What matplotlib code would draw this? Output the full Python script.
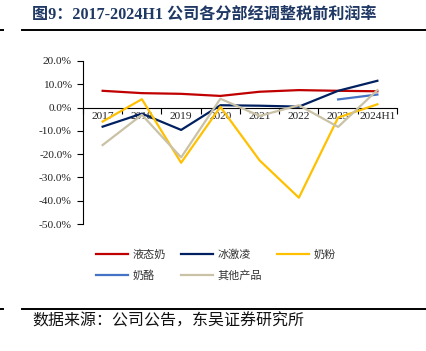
import matplotlib

matplotlib.use("Agg")
import matplotlib.pyplot as plt
from matplotlib.lines import Line2D
from matplotlib.ticker import FuncFormatter, FixedLocator

years = ["2017", "2018", "2019", "2020", "2021", "2022", "2023", "2024H1"]
liquid_milk = [7.2, 6.2, 5.9, 5.0, 6.8, 7.5, 7.2, 7.0]
ice_cream = [-8.2, -2.6, -9.6, 1.0, 0.8, 0.4, 7.2, 11.5]
milk_powder = [-6.0, 3.6, -23.7, 0.3, -22.7, -38.7, -4.3, 1.4]
cheese = [None, None, None, None, None, None, 3.5, 5.6]
others = [-16.1, -3.1, -21.4, 3.8, -3.6, 1.0, -8.3, 7.5]

series = [
    ("液态奶", liquid_milk, "#C00000"),
    ("冰激凌", ice_cream, "#002060"),
    ("奶粉", milk_powder, "#FFC000"),
    ("奶酪", cheese, "#4472C4"),
    ("其他产品", others, "#C9C2A6"),
]

serif = ["Liberation Serif", "Noto Sans CJK SC"]
cjk = ["Noto Sans CJK SC", "DejaVu Sans"]

fig = plt.figure(figsize=(4.27, 3.51), dpi=100, facecolor="white")
ax = fig.add_axes([83 / 427, 1 - 224 / 351, (397 - 83) / 427, (224 - 61) / 351])

x = list(range(len(years)))
lines = {}
for name, vals, color in series:
    xs = [i for i, v in zip(x, vals) if v is not None]
    ys = [v / 100 for v in vals if v is not None]
    (ln,) = ax.plot(xs, ys, color=color, linewidth=1.6, label=name, zorder=3)
    lines[name] = ln

ax.set_xlim(-0.5, len(years) - 0.5)
ax.set_ylim(-0.5, 0.2)
ax.set_yticks([i / 10 for i in range(-5, 3)])
ax.yaxis.set_major_formatter(FuncFormatter(lambda v, _: f"{v * 100:.1f}%"))

ax.spines["top"].set_visible(False)
ax.spines["right"].set_visible(False)
ax.spines["bottom"].set_position(("data", 0))
for sp in ("left", "bottom"):
    ax.spines[sp].set_color("black")
    ax.spines[sp].set_linewidth(0.8)

ax.xaxis.set_major_locator(FixedLocator(x))
ax.set_xticklabels(years)
ax.xaxis.set_minor_locator(FixedLocator([i - 0.5 for i in range(len(years) + 1)]))
ax.tick_params(axis="x", which="major", length=0, pad=3)
ax.tick_params(axis="x", which="minor", length=4, direction="out", width=0.8)
ax.tick_params(axis="y", length=4, direction="out", width=0.8, pad=4)
for lab in ax.get_xticklabels() + ax.get_yticklabels():
    lab.set_fontfamily(serif)
    lab.set_fontsize(8.2)
    lab.set_color("#222222")

order = ["液态奶", "奶酪", "冰激凌", "其他产品", "奶粉"]
leg = fig.legend(
    [lines[n] for n in order], order,
    ncol=3, loc="upper left", bbox_to_anchor=(96 / 427, 1 - 249 / 351),
    frameon=False, prop={"family": cjk, "size": 8},
    handlelength=2.9, handletextpad=0.35, columnspacing=1.4, labelspacing=0.95,
    borderaxespad=0, borderpad=0,
)
for t in leg.get_texts():
    t.set_color("#333333")

fig.text(32 / 427, 1 - 15 / 351, "图9：2017-2024H1 公司各分部经调整税前利润率",
         family=serif, weight="bold", fontsize=11.6, color="#1F3864",
         ha="left", va="center")

for y in (29.5, 308.5):
    fig.add_artist(Line2D([22 / 427, 1], [1 - y / 351] * 2, color="black", linewidth=1.4))
    fig.add_artist(Line2D([0, 3 / 427], [1 - y / 351] * 2, color="black", linewidth=1.4))

fig.text(32 / 427, 1 - 321 / 351, "数据来源：公司公告，东吴证券研究所",
         family=cjk, fontsize=11.5, color="#111111", ha="left", va="center")

fig.savefig("out.png", dpi=100, facecolor="white")
